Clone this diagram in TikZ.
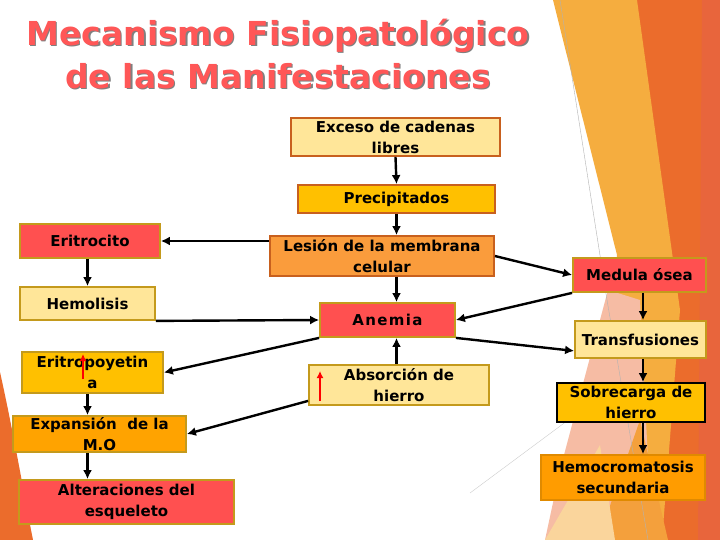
\documentclass[tikz,border=0pt]{standalone}
\usepackage{fontspec}
\setmainfont{DejaVu Sans}
\newfontfamily\spacedfont[LetterSpace=9]{DejaVu Sans}
\usetikzlibrary{arrows.meta}

\definecolor{paleyel}{HTML}{FFE699}
\definecolor{goldfill}{HTML}{FFC000}
\definecolor{redfill}{HTML}{FF5050}
\definecolor{orgfill}{HTML}{FA9C3C}
\definecolor{expfill}{HTML}{FFA300}
\definecolor{hemfill}{HTML}{FF9C00}
\definecolor{brownline}{HTML}{C8601E}
\definecolor{goldline}{HTML}{C49A1C}
\definecolor{hemline}{HTML}{E08A00}
\definecolor{titlered}{HTML}{FF5757}
\definecolor{bgdeep}{HTML}{EB6C2C}
\definecolor{bgred}{HTML}{E8653C}
\definecolor{bgyellow}{HTML}{F5AD3F}
\definecolor{bgpink}{HTML}{F6BCA4}
\definecolor{bgpeach}{HTML}{FAD59C}
\definecolor{bgmid}{HTML}{F4A03C}

\tikzset{
	box/.style={draw, line width=1.8pt, align=center, inner sep=1pt,
		font=\fontsize{15}{21}\selectfont\bfseries},
	link/.style={line width=2.4pt, -{Latex[length=9pt,width=9pt]}},
	upmark/.style={red, line width=2.2pt, -{Latex[length=7pt,width=7pt]}}
}

\begin{document}
\begin{tikzpicture}[x=1pt,y=-1pt]
	\useasboundingbox (0,0) rectangle (720,540);
	\fill[white] (0,0) rectangle (720,540);
	\fill[bgdeep] (636,0) -- (720,0) -- (720,540) -- (640,540) -- cycle;
	\fill[bgred] (702,0) -- (720,0) -- (720,540) -- (698,540) -- cycle;
	\fill[bgyellow] (553,0) -- (637,0) -- (680,310) -- (662,540) -- (600,540) -- (617,255) -- cycle;
	\fill[bgpink] (608,290) -- (640,300) -- (652,540) -- (545,540) -- (560,470) -- cycle;
	\fill[bgmid] (598,540) -- (640,420) -- (668,540) -- cycle;
	\fill[bgpeach] (545,540) -- (600,445) -- (615,540) -- cycle;
	\fill[bgdeep] (0,372) .. controls (15,440) and (25,500) .. (33,540) -- (0,540) -- cycle;
	\draw[gray!60, line width=0.4pt] (560,0) -- (607,300) -- (648,540);
	\draw[gray!40, line width=0.4pt] (470,493) -- (575,415);

	\node[gray, font=\fontsize{33}{43}\selectfont\bfseries, align=center] (titleshadow) at (279.5,55.5)
		{Mecanismo Fisiopatológico\\de las Manifestaciones};
	\node[titlered, font=\fontsize{33}{43}\selectfont\bfseries, align=center] (title) at (278,54)
		{Mecanismo Fisiopatológico\\de las Manifestaciones};

	\node[box, fill=paleyel, draw=brownline, minimum width=209pt, minimum height=38pt] (exceso) at (395.5,137) {Exceso de cadenas\\libres};
	\node[box, fill=goldfill, draw=brownline, minimum width=197pt, minimum height=28pt] (precip) at (396.5,199) {Precipitados};
	\node[box, fill=orgfill, draw=brownline, minimum width=224pt, minimum height=40pt] (lesion) at (382,256) {Lesión de la membrana\\celular};
	\node[box, fill=redfill, draw=goldline, minimum width=140pt, minimum height=34pt] (eritrocito) at (90,241) {Eritrocito};
	\node[box, fill=paleyel, draw=goldline, minimum width=135pt, minimum height=33pt] (hemolisis) at (87.5,303.5) {Hemolisis};
	\node[box, fill=redfill, draw=goldline, minimum width=135pt, minimum height=34pt] (anemia) at (387.5,320) {\spacedfont Anemia};
	\node[box, fill=redfill, draw=goldline, minimum width=133pt, minimum height=34pt] (medula) at (639.5,275) {Medula ósea};
	\node[box, fill=paleyel, draw=goldline, minimum width=131pt, minimum height=37pt] (transf) at (640.5,339.5) {Transfusiones};
	\node[box, fill=goldfill, draw=goldline, minimum width=141pt, minimum height=41pt] (eritropo) at (92.5,372.5) {Eritropoyetin\\a};
	\node[box, fill=paleyel, draw=goldline, minimum width=180pt, minimum height=40pt] (absorcion) at (399,385) {Absorción de\\hierro};
	\node[box, fill=expfill, draw=goldline, minimum width=173pt, minimum height=36pt] (expansion) at (99.5,434) {Expansión \ de la\\M.O};
	\node[box, fill=redfill, draw=goldline, minimum width=215pt, minimum height=44pt] (alteraciones) at (126.5,502) {Alteraciones del\\esqueleto};
	\node[box, fill=goldfill, draw=black, minimum width=148pt, minimum height=39pt] (sobrecarga) at (631,402.5) {Sobrecarga de\\hierro};
	\node[box, fill=hemfill, draw=hemline, minimum width=164pt, minimum height=45pt] (hemocro) at (623,477.5) {Hemocromatosis\\secundaria};

	\coordinate (eritrolow) at (83,379);
	\coordinate (eritrohigh) at (83,354);
	\coordinate (absorlow) at (320,401);
	\coordinate (absorhigh) at (320,371);

	\draw[link] (exceso.south) -- (precip.north);
	\draw[link] (precip.south) -- (precip.south |- lesion.north);
	\draw[link] (lesion.west |- eritrocito.east) -- (eritrocito.east);
	\draw[link] (hemolisis.north |- eritrocito.south) -- (hemolisis.north);
	\draw[link] (hemolisis.south east) -- (anemia.west);
	\draw[link] (precip.south |- lesion.south) -- (precip.south |- anemia.north);
	\draw[link] (lesion.east) -- (medula.west);
	\draw[link] (medula.south west) -- (anemia.east);
	\draw[link] (anemia.south east) -- ([yshift=8pt]transf.south west);
	\draw[link] (anemia.south west) -- (eritropo.east);
	\draw[link] (precip.south |- absorcion.north) -- (precip.south |- anemia.south);
	\draw[link] (hemolisis.south |- eritropo.south) -- (hemolisis.south |- expansion.north);
	\draw[link] ([yshift=5pt]absorcion.south west) -- (expansion.east);
	\draw[link] (hemolisis.south |- expansion.south) -- (hemolisis.south |- alteraciones.north);
	\draw[link] (medula.south -| 643,0) -- (transf.north -| 643,0);
	\draw[link] (transf.south -| 643,0) -- (sobrecarga.north -| 643,0);
	\draw[link] (sobrecarga.south -| 643,0) -- (hemocro.north -| 643,0);
	\draw[upmark] (eritrolow) -- (eritrohigh);
	\draw[upmark] (absorlow) -- (absorhigh);
\end{tikzpicture}
\end{document}
